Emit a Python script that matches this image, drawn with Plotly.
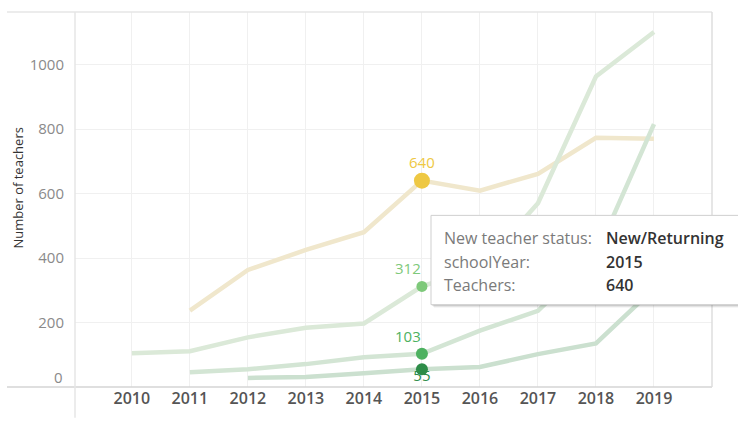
import plotly.graph_objects as go

years = [2010, 2011, 2012, 2013, 2014, 2015, 2016, 2017, 2018, 2019]
new_returning = [None, 237, 363, 425, 480, 640, 609, 661, 773, 770]
series_upper = [105, 111, 154, 184, 197, 312, 370, 570, 963, 1101]
series_middle = [None, 46, 55, 71, 92, 103, 175, 236, 409, 815]
series_lower = [None, None, 28, 31, 43, 55, 62, 102, 135, 305]

highlight_year = 2015
y_ticks = [200, 400, 600, 800, 1000]

W, H = 738, 421
L, R, T, B = 75, 26, 12, 31
pw, ph = W - L - R, H - T - B


def px_x(px):
    return (px - L) / pw


def px_y(py):
    return (H - B - py) / ph


FONT = "Open Sans"

# name, values, faded line colour, highlight colour, dot size, label placement
series = [
    ("New/Returning", new_returning, "#f0e7cc", "#eec843", 16, "top"),
    ("Upper", series_upper, "#dbe9d8", "#7ec97a", 11, "topleft"),
    ("Middle", series_middle, "#d3e5d4", "#4db160", 12, "topleft"),
    ("Lower", series_lower, "#cbe0cf", "#2d8c48", 12, "under"),
]

fig = go.Figure()

for name, vals, lc, dc, ms, lp in series:
    fig.add_trace(go.Scatter(
        x=years, y=vals, mode="lines", name=name,
        line=dict(color=lc, width=4.5), connectgaps=False,
        hoverinfo="skip", showlegend=False,
    ))

annotations = []
hi = years.index(highlight_year)
for name, vals, lc, dc, ms, lp in series:
    v = vals[hi]
    if lp == "under":
        fig.add_trace(go.Scatter(
            x=[highlight_year], y=[v], mode="text", text=[str(v)],
            textposition="bottom center",
            textfont=dict(family=FONT, size=15, color=dc),
            hoverinfo="skip", showlegend=False,
        ))
    elif lp == "top":
        annotations.append(dict(x=highlight_year, y=v, xref="x", yref="y", text=str(v),
                                showarrow=False, xanchor="center", yanchor="middle", yshift=19,
                                font=dict(family=FONT, size=15, color=dc)))
    else:
        annotations.append(dict(x=highlight_year, y=v, xref="x", yref="y", text=str(v),
                                showarrow=False, xanchor="right", yanchor="middle",
                                yshift=18, xshift=1,
                                font=dict(family=FONT, size=15, color=dc)))
    fig.add_trace(go.Scatter(
        x=[highlight_year], y=[v], mode="markers",
        marker=dict(color=dc, size=ms, line=dict(width=0)),
        hoverinfo="skip", showlegend=False,
    ))

shapes = []
shapes.append(dict(type="line", xref="paper", yref="paper", x0=px_x(7), x1=1, y0=1, y1=1,
                   line=dict(color="#e6e6e6", width=1.5)))
shapes.append(dict(type="line", xref="paper", yref="paper", x0=px_x(7), x1=1, y0=0, y1=0,
                   line=dict(color="#d4d4d4", width=1.5)))
shapes.append(dict(type="line", xref="paper", yref="paper", x0=0, x1=0, y0=px_y(421), y1=1,
                   line=dict(color="#e6e6e6", width=1.5)))
shapes.append(dict(type="line", xref="paper", yref="paper", x0=1, x1=1, y0=0, y1=1,
                   line=dict(color="#dedede", width=1.5)))

# tooltip box
tx0, tx1, ty0, ty1 = 431, 739, 217, 307
for off, col in [(3, "rgba(0,0,0,0.05)"), (2, "rgba(0,0,0,0.08)"), (1, "rgba(0,0,0,0.12)")]:
    shapes.append(dict(type="rect", xref="paper", yref="paper",
                       x0=px_x(tx0 + off), x1=px_x(tx1 + off), y0=px_y(ty1 + off), y1=px_y(ty0 + off),
                       line=dict(width=0), fillcolor=col, layer="above"))
shapes.append(dict(type="rect", xref="paper", yref="paper",
                   x0=px_x(tx0), x1=px_x(tx1), y0=px_y(ty1), y1=px_y(ty0),
                   line=dict(color="#cfcfcf", width=1), fillcolor="white", layer="above"))

rows = [("New teacher status:", "New/Returning", 240),
        ("schoolYear:", str(highlight_year), 264),
        ("Teachers:", str(new_returning[hi]), 287)]
for lab, val, yy in rows:
    annotations.append(dict(xref="paper", yref="paper", x=px_x(442), y=px_y(yy), text=lab,
                            showarrow=False, xanchor="left", yanchor="middle",
                            font=dict(family=FONT, size=16, color="#7a7a7a")))
    annotations.append(dict(xref="paper", yref="paper", x=px_x(604), y=px_y(yy), text=val,
                            showarrow=False, xanchor="left", yanchor="middle",
                            font=dict(family=FONT, size=16, color="#333333", weight=600)))

annotations.append(dict(xref="paper", yref="paper", x=px_x(65), y=px_y(380), text="0",
                        showarrow=False, xanchor="right", yanchor="middle",
                        font=dict(family=FONT, size=15, color="#8a8a8a")))
annotations.append(dict(xref="paper", yref="paper", x=px_x(18), y=px_y(190), text="Number of teachers",
                        showarrow=False, textangle=-90, xanchor="center", yanchor="middle",
                        font=dict(family=FONT, size=13, color="#333333")))

fig.update_layout(
    width=W, height=H,
    margin=dict(l=L, r=R, t=T, b=B, pad=0),
    plot_bgcolor="white", paper_bgcolor="white",
    shapes=shapes, annotations=annotations,
    hovermode=False,
    xaxis=dict(range=[2009.02, 2020], tickvals=years, ticktext=[str(y) for y in years],
               showgrid=True, gridcolor="#f0f0f0", gridwidth=1, zeroline=False,
               showline=False, ticks="", fixedrange=True,
               tickfont=dict(family=FONT, size=16, color="#555555", weight=600)),
    yaxis=dict(range=[0, 1163], tickvals=y_ticks, ticktext=[str(v) for v in y_ticks],
               showgrid=True, gridcolor="#f0f0f0", gridwidth=1, zeroline=False,
               showline=False, ticks="", ticklabelstandoff=10, fixedrange=True,
               tickfont=dict(family=FONT, size=15, color="#8a8a8a")),
)

fig.write_html("out.html", config={"displayModeBar": False},
               post_script="document.body.style.margin='0';document.body.style.overflow='hidden';")
